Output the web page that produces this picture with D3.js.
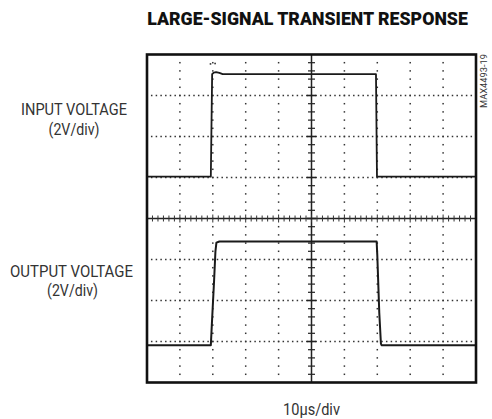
<!DOCTYPE html>
<html><head><meta charset="utf-8">
<script src="https://cdn.jsdelivr.net/npm/d3@7"></script>
<style>
html,body{margin:0;padding:0;background:#fff;}
svg{display:block;}
text{font-family:"Roboto","Liberation Sans","DejaVu Sans",sans-serif;}
</style></head>
<body>
<script>
// ---- data (screen divisions: time 0-10 div, amplitude 0-8 div) ----
const title = "LARGE-SIGNAL TRANSIENT RESPONSE";
const inputLabel = ["INPUT VOLTAGE", "(2V/div)"];
const outputLabel = ["OUTPUT VOLTAGE", "(2V/div)"];
const timeLabel = "10\u03BCs/div";
const figId = "MAX4493-19";
const xDivs = 10, yDivs = 8;
const inputT = [0, 1.94, 1.98, 2.03, 2.1, 2.2, 2.3, 6.96, 6.99, 10];
const inputV = [5.02, 5.02, 7.52, 7.56, 7.57, 7.55, 7.52, 7.52, 5.02, 5.02];
const glitchT = [1.93, 2.07];
const glitchV = [7.77, 7.78];
const outputT = [0, 1.94, 1.97, 2.04, 2.08, 2.11, 2.2, 6.98, 7.0, 7.06, 7.11, 7.13, 10];
const outputV = [0.91, 0.91, 1.4, 2.5, 3.2, 3.41, 3.44, 3.44, 3.1, 1.7, 0.95, 0.91, 0.91];

const W = 492, H = 419;
const svg = d3.select("body").append("svg").attr("width", W).attr("height", H);
const x = d3.scaleLinear().domain([0, xDivs]).range([147, 476]);
const y = d3.scaleLinear().domain([0, yDivs]).range([382.5, 54.5]);

// text fitted to a target width by horizontal scaling (keeps glyph height)
function fitText(t, cx, by, w, size, weight, fill, rot) {
  const grp = svg.append("g");
  const el = grp.append("text").attr("text-anchor", "middle")
    .attr("font-size", size).attr("font-weight", weight).attr("fill", fill).text(t);
  const natural = el.node().getComputedTextLength();
  const sx = w / natural;
  grp.attr("transform", `translate(${cx},${by})` + (rot ? ` rotate(${rot})` : "") + ` scale(${sx},1)`);
}

fitText(title, 307.5, 25, 321, 19, 900, "#111");
fitText(inputLabel[0], 74, 115, 106, 16, 400, "#333");
fitText(inputLabel[1], 74, 135, 51, 16, 400, "#333");
fitText(outputLabel[0], 71.5, 276.5, 123, 16, 400, "#333");
fitText(outputLabel[1], 72.5, 296, 51, 16, 400, "#333");
fitText(timeLabel, 311.5, 415, 57, 16.5, 400, "#333");
fitText(figId, 487, 81, 54, 9.5, 400, "#333", -90);

const g = svg.append("g");
const dotC = "#333";
// vertical dotted gridlines
d3.range(1, xDivs).filter(k => k !== xDivs / 2).forEach(k => {
  d3.range(1, yDivs * 5).forEach(j => {
    g.append("rect").attr("x", x(k) - 0.75).attr("y", y(j / 5) - 0.75)
      .attr("width", 1.5).attr("height", 1.5).attr("fill", dotC);
  });
});
// horizontal dotted gridlines
d3.range(1, yDivs).filter(k => k !== yDivs / 2).forEach(k => {
  d3.range(1, xDivs * 7).forEach(j => {
    g.append("rect").attr("x", x(j / 7) - 0.75).attr("y", y(k) - 0.75)
      .attr("width", 1.5).attr("height", 1.5).attr("fill", dotC);
  });
});
// center axes
g.append("line").attr("x1", x(0)).attr("x2", x(xDivs)).attr("y1", y(yDivs / 2)).attr("y2", y(yDivs / 2))
  .attr("stroke", "#222").attr("stroke-width", 1.3);
g.append("line").attr("x1", x(xDivs / 2)).attr("x2", x(xDivs / 2)).attr("y1", y(0)).attr("y2", y(yDivs))
  .attr("stroke", "#222").attr("stroke-width", 1.5);
d3.range(1, xDivs * 6).forEach(j => {
  const major = j % 6 === 0;
  g.append("line").attr("x1", x(j / 6)).attr("x2", x(j / 6))
    .attr("y1", y(yDivs / 2) - (major ? 4 : 3)).attr("y2", y(yDivs / 2) + (major ? 4 : 3))
    .attr("stroke", "#333").attr("stroke-width", 1);
});
d3.range(1, yDivs * 5).forEach(j => {
  const major = j % 5 === 0;
  g.append("line").attr("x1", x(xDivs / 2) - (major ? 4.5 : 3.5)).attr("x2", x(xDivs / 2) + (major ? 4.5 : 3.5))
    .attr("y1", y(j / 5)).attr("y2", y(j / 5))
    .attr("stroke", "#222").attr("stroke-width", major ? 1.6 : 1.2);
});

// traces
const line = d3.line().x(d => x(d[0])).y(d => y(d[1]));
const inData = inputT.map((t, i) => [t, inputV[i]]);
const outData = outputT.map((t, i) => [t, outputV[i]]);
g.append("path").attr("d", line(inData)).attr("fill", "none")
  .attr("stroke", "#1a1a1a").attr("stroke-width", 1.8).attr("stroke-linejoin", "round");
g.append("path").attr("d", line(outData)).attr("fill", "none")
  .attr("stroke", "#1a1a1a").attr("stroke-width", 2).attr("stroke-linejoin", "round");
glitchT.forEach((t, i) => {
  g.append("rect").attr("x", x(t) - 0.8).attr("y", y(glitchV[i]) - 0.8)
    .attr("width", 1.6).attr("height", 1.6).attr("fill", "#333");
});

// frame
g.append("rect").attr("x", x(0)).attr("y", y(yDivs)).attr("width", x(xDivs) - x(0)).attr("height", y(0) - y(yDivs))
  .attr("fill", "none").attr("stroke", "#111").attr("stroke-width", 2.6);
</script>
</body></html>
